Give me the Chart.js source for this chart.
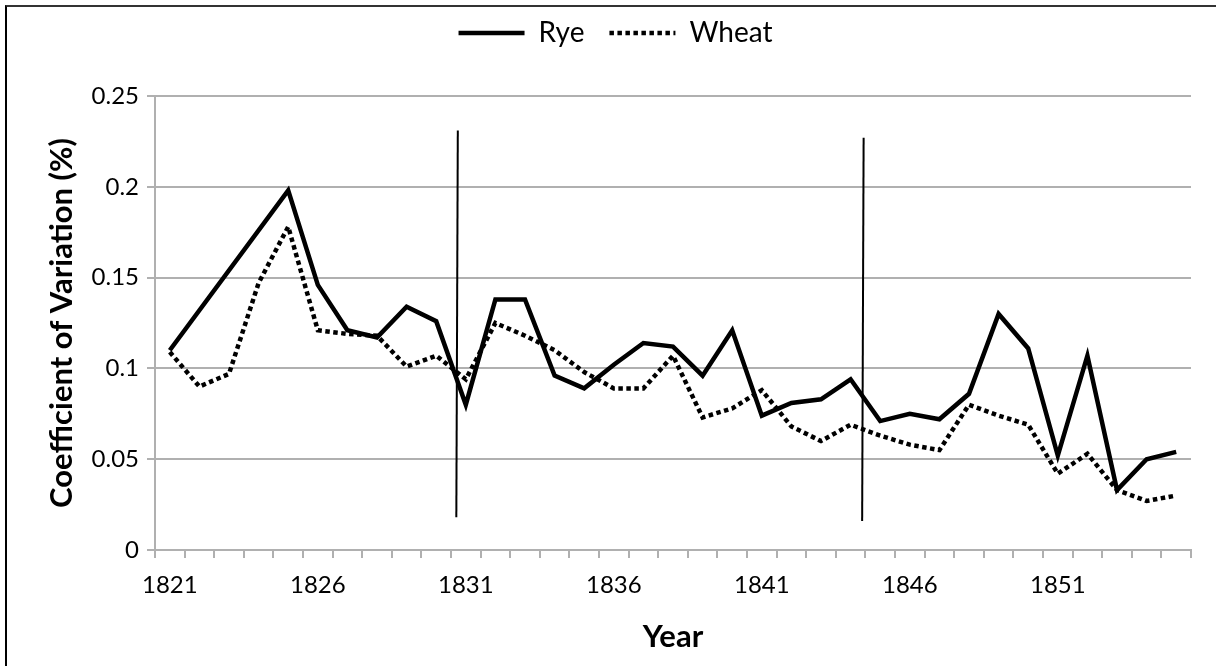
<!DOCTYPE html>
<html>
<head>
<meta charset="utf-8">
<title>Coefficient of Variation – Rye and Wheat</title>
<script src="https://cdn.jsdelivr.net/npm/chart.js@4/dist/chart.umd.min.js"></script>
<style>
  html, body { margin: 0; padding: 0; background: #fff; }
  #wrap { position: relative; width: 1216px; height: 666px; overflow: hidden; }
  #frame {
    position: absolute; left: 5px; top: 5px; right: -10px; bottom: -10px;
    border-left: 2px solid #000; border-top: 2px solid #333;
    pointer-events: none;
  }
</style>
</head>
<body>
<div id="wrap">
  <canvas id="cvChart" width="1216" height="666"></canvas>
  <div id="frame"></div>
</div>
<script>
const years = [];
for (let y = 1821; y <= 1855; y++) years.push(String(y));

// only every fifth year gets a label
const xTickLabels = ["1821", "1826", "1831", "1836", "1841", "1846", "1851"];
const yTickLabels = ["0", "0.05", "0.1", "0.15", "0.2", "0.25"];

// 1822-1824 missing for rye, line is joined across
const rye = [
  0.110, null, null, null, 0.198, 0.146, 0.121, 0.117, 0.134, 0.126,
  0.080, 0.138, 0.138, 0.096, 0.089, 0.102, 0.114, 0.112, 0.096, 0.121,
  0.074, 0.081, 0.083, 0.094, 0.071, 0.075, 0.072, 0.086, 0.130, 0.111,
  0.052, 0.107, 0.033, 0.050, 0.054
];

const wheat = [
  0.109, 0.090, 0.097, 0.147, 0.178, 0.121, 0.119, 0.118, 0.101, 0.107,
  0.094, 0.125, 0.118, 0.110, 0.098, 0.089, 0.089, 0.107, 0.073, 0.078,
  0.088, 0.068, 0.060, 0.069, 0.063, 0.058, 0.055, 0.080, 0.074, 0.069,
  0.042, 0.053, 0.033, 0.027, 0.030
];

// hand drawn period breaks (slightly slanted), in year / value units
const dividers = [
  { yearTop: 1830.73, yearBottom: 1830.68, valueTop: 0.231, valueBottom: 0.018 },
  { yearTop: 1844.44, yearBottom: 1844.39, valueTop: 0.227, valueBottom: 0.016 }
];

const GRID = "#b0b0b0";

Chart.defaults.font.family = "Lato, 'Open Sans', sans-serif";
Chart.defaults.color = "#000";

// pushes the plot down below the legend
const legendSpacer = {
  id: "legendSpacer",
  beforeInit(chart) {
    const fit = chart.legend.fit;
    chart.legend.fit = function () {
      fit.call(this);
      this.height += 39;
    };
  }
};

const dividerLines = {
  id: "dividerLines",
  afterDatasetsDraw(chart) {
    const { ctx, scales: { x, y } } = chart;
    const first = Number(years[0]);
    ctx.save();
    ctx.strokeStyle = "#000";
    ctx.lineWidth = 2;
    dividers.forEach((d) => {
      ctx.beginPath();
      ctx.moveTo(x.getPixelForValue(d.yearTop - first), y.getPixelForValue(d.valueTop));
      ctx.lineTo(x.getPixelForValue(d.yearBottom - first), y.getPixelForValue(d.valueBottom));
      ctx.stroke();
    });
    ctx.restore();
  }
};

// legend samples use the dataset's own line width and dash
function legendLabels(chart) {
  const items = Chart.defaults.plugins.legend.labels.generateLabels(chart);
  items.forEach((item) => {
    const ds = chart.data.datasets[item.datasetIndex];
    item.lineDash = ds.borderDash || [];
    item.lineWidth = ds.borderWidth;
  });
  return items;
}

new Chart(document.getElementById("cvChart"), {
  type: "line",
  data: {
    labels: years,
    datasets: [
      {
        label: "Rye",
        data: rye,
        borderColor: "#000",
        backgroundColor: "#000",
        borderWidth: 4.5,
        pointRadius: 0,
        spanGaps: true,
        tension: 0
      },
      {
        label: "Wheat",
        data: wheat,
        borderColor: "#000",
        backgroundColor: "#000",
        borderWidth: 4.5,
        borderDash: [4.5, 3.5],
        pointRadius: 0,
        tension: 0
      }
    ]
  },
  options: {
    responsive: false,
    animation: false,
    layout: { padding: { top: -6, left: 40, right: 25, bottom: 6 } },
    plugins: {
      legend: {
        position: "top",
        labels: {
          usePointStyle: true,
          pointStyle: "line",
          pointStyleWidth: 66,
          padding: 25,
          color: "#000",
          font: { size: 28 },
          generateLabels: legendLabels
        }
      },
      tooltip: { enabled: false }
    },
    scales: {
      x: {
        type: "category",
        offset: true,
        afterFit(scale) { scale.height = 110; },
        grid: {
          offset: true,
          drawOnChartArea: false,
          drawTicks: true,
          tickLength: 8,
          color: GRID,
          lineWidth: 2
        },
        border: { color: GRID, width: 2 },
        ticks: {
          autoSkip: false,
          maxRotation: 0,
          padding: 13,
          font: { size: 24 },
          callback: (v, i) => (xTickLabels.includes(years[i]) ? years[i] : "")
        },
        title: {
          display: true,
          text: "Year",
          font: { size: 31, weight: "bold" },
          padding: { top: 4, bottom: 4 }
        }
      },
      y: {
        min: 0,
        max: 0.25,
        afterFit(scale) { scale.width = 115; },
        grid: { color: GRID, lineWidth: 2, tickLength: 8 },
        border: { color: GRID, width: 2 },
        ticks: {
          stepSize: 0.05,
          padding: 8,
          font: { size: 24 },
          callback: (v, i) => yTickLabels[i]
        },
        title: {
          display: true,
          text: "Coefficient of Variation (%)",
          font: { size: 31, weight: "bold" },
          padding: { top: 3, bottom: 4 }
        }
      }
    }
  },
  plugins: [legendSpacer, dividerLines]
});
</script>
</body>
</html>
